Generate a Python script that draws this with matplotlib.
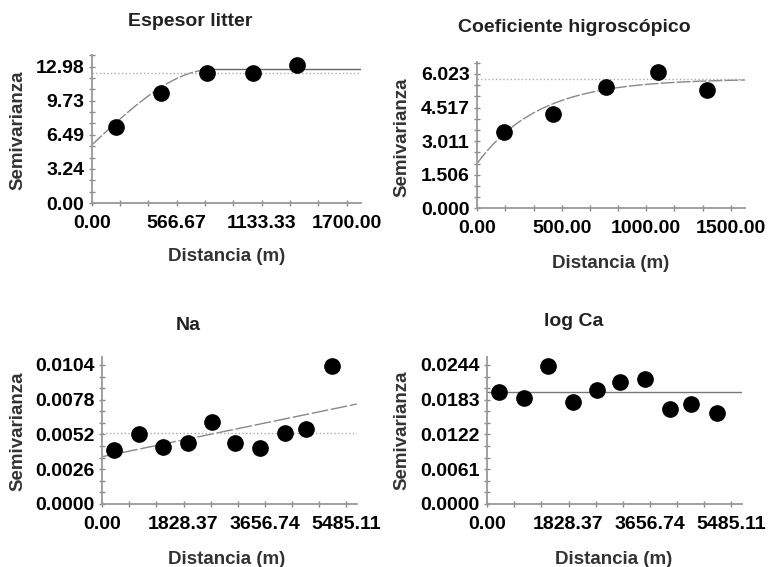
import matplotlib
matplotlib.use("Agg")
import matplotlib.pyplot as plt
import numpy as np
from matplotlib.ticker import AutoMinorLocator

plt.rcParams["font.family"] = ["Liberation Sans", "DejaVu Sans"]
plt.rcParams["font.weight"] = "bold"

# Espesor litter (modelo esférico)
litter_dist = [162, 460, 771, 1073, 1367]
litter_semiv = [7.27, 10.45, 12.41, 12.35, 13.14]
litter_nugget, litter_sill, litter_range = 5.52, 12.73, 810
litter_var = 12.41
litter_xticks = [0, 566.67, 1133.33, 1700.00]
litter_xlabels = ["0.00", "566.67", "1133.33", "1700.00"]
litter_yticks = [0, 3.245, 6.49, 9.735, 12.98]
litter_ylabels = ["0.00", "3.24", "6.49", "9.73", "12.98"]

# Coeficiente higroscópico (modelo exponencial)
hig_dist = [160, 450, 760, 1071, 1362]
hig_semiv = [3.41, 4.22, 5.44, 6.10, 5.32]
hig_nugget, hig_sill, hig_range = 2.02, 5.80, 1100
hig_var = 5.80
hig_xticks = [0, 500, 1000, 1500]
hig_xlabels = ["0.00", "500.00", "1000.00", "1500.00"]
hig_yticks = [0, 1.50575, 3.0115, 4.51725, 6.023]
hig_ylabels = ["0.000", "1.506", "3.011", "4.517", "6.023"]

# Na (modelo lineal)
na_dist = [270, 833, 1373, 1921, 2462, 2986, 3548, 4111, 4583, 5162]
na_semiv = [0.00404, 0.00524, 0.00424, 0.00459, 0.00611,
            0.00454, 0.00421, 0.00529, 0.00559, 0.01033]
na_intercept, na_slope = 0.00354, 6.88e-7
na_var = 0.00529
dist_xticks = [0, 1828.37, 3656.74, 5485.11]
dist_xlabels = ["0.00", "1828.37", "3656.74", "5485.11"]
na_yticks = [0, 0.0026, 0.0052, 0.0078, 0.0104]
na_ylabels = ["0.0000", "0.0026", "0.0052", "0.0078", "0.0104"]

# log Ca (efecto pepita puro)
ca_dist = [270, 833, 1373, 1935, 2462, 2993, 3555, 4111, 4583, 5162]
ca_semiv = [0.01960, 0.01866, 0.02427, 0.01795, 0.02001,
            0.02147, 0.02194, 0.01667, 0.01755, 0.01602]
ca_nugget = 0.0196
ca_yticks = [0, 0.0061, 0.0122, 0.0183, 0.0244]
ca_ylabels = ["0.0000", "0.0061", "0.0122", "0.0183", "0.0244"]

W, H = 768, 567
fig = plt.figure(figsize=(W / 100, H / 100), dpi=100)


def make_ax(left, right, bottom, top):
    # coordenadas en pixeles de la imagen
    ax = fig.add_axes([left / W, 1 - bottom / H, (right - left) / W, (bottom - top) / H])
    for s in ["top", "right"]:
        ax.spines[s].set_visible(False)
    for s in ["left", "bottom"]:
        ax.spines[s].set_color("#999999")
        ax.spines[s].set_linewidth(1.3)
    ax.xaxis.set_minor_locator(AutoMinorLocator(3))
    ax.yaxis.set_minor_locator(AutoMinorLocator(3))
    ax.tick_params(which="major", direction="inout", length=5, width=1,
                   color="#888888", labelsize=14, labelcolor="black")
    ax.tick_params(which="minor", direction="inout", length=4, width=1,
                   color="#888888")
    ax.tick_params(axis="x", which="major", pad=6)
    ax.tick_params(axis="y", which="major", pad=3)
    return ax


def texts(cx, title_y, title, xl_x, xl_y, yl_x, yl_y):
    fig.text(cx / W, 1 - title_y / H, title, ha="center", va="center",
             fontsize=14, color="#222222")
    fig.text(xl_x / W, 1 - xl_y / H, "Distancia (m)", ha="center", va="center",
             fontsize=13.5, color="#333333")
    fig.text(yl_x / W, 1 - yl_y / H, "Semivarianza", ha="center", va="center",
             fontsize=13.5, color="#333333", rotation=90)


mk = dict(marker="o", linestyle="none", color="black", markersize=11, zorder=4)

# --- Espesor litter
ax1 = make_ax(91.7, 361, 203, 55)
h = np.linspace(0, litter_range, 200)
r = h / litter_range
ax1.plot(h, litter_nugget + (litter_sill - litter_nugget) * (1.5 * r - 0.5 * r ** 3),
         color="#888888", lw=1, dashes=(10, 1.5))
ax1.plot([litter_range, 1795], [litter_sill, litter_sill], color="#666666", lw=1)
ax1.axhline(litter_var, color="#aaaaaa", lw=1, ls=":")
ax1.plot(litter_dist, litter_semiv, **mk)
ax1.set_xlim(0, 1795)
ax1.set_ylim(0, 14.09)
ax1.set_xticks(litter_xticks, litter_xlabels)
ax1.set_yticks(litter_yticks, litter_ylabels)
texts(190, 21, "Espesor litter", 226.7, 256.7, 18.3, 130)

# --- Coeficiente higroscópico
ax2 = make_ax(477.3, 745, 208.3, 61.7)
h = np.linspace(0, 1584, 300)
ax2.plot(h, hig_nugget + (hig_sill - hig_nugget) * (1 - np.exp(-3 * h / hig_range)),
         color="#888888", lw=1, dashes=(10, 1.5))
ax2.axhline(hig_var, color="#aaaaaa", lw=1, ls=":")
ax2.plot(hig_dist, hig_semiv, **mk)
ax2.set_xlim(0, 1584)
ax2.set_ylim(0, 6.57)
ax2.set_xticks(hig_xticks, hig_xlabels)
ax2.set_yticks(hig_yticks, hig_ylabels)
texts(574, 28, "Coeficiente higroscópico", 610.7, 263.3, 402.3, 137)

# --- Na
ax3 = make_ax(102.3, 356.7, 504, 356.7)
h = np.array([0, 5724])
ax3.plot(h, na_intercept + na_slope * h, color="#888888", lw=1, dashes=(12, 2))
ax3.axhline(na_var, color="#aaaaaa", lw=1, ls=":")
ax3.plot(na_dist, na_semiv, **mk)
ax3.set_xlim(0, 5724)
ax3.set_ylim(0, 0.01102)
ax3.set_xticks(dist_xticks, dist_xlabels)
ax3.set_yticks(na_yticks, na_ylabels)
texts(188, 325, "Na", 226.7, 559.7, 18.3, 431)

# --- log Ca
ax4 = make_ax(487.3, 741.7, 504, 357.3)
ax4.axhline(ca_nugget, color="#777777", lw=1)
ax4.plot(ca_dist, ca_semiv, **mk)
ax4.set_xlim(0, 5724)
ax4.set_ylim(0, 0.02575)
ax4.set_xticks(dist_xticks, dist_xlabels)
ax4.set_yticks(ca_yticks, ca_ylabels)
texts(574, 321, "log Ca", 614, 559.7, 402.3, 430)

fig.savefig("out.png", dpi=100)
